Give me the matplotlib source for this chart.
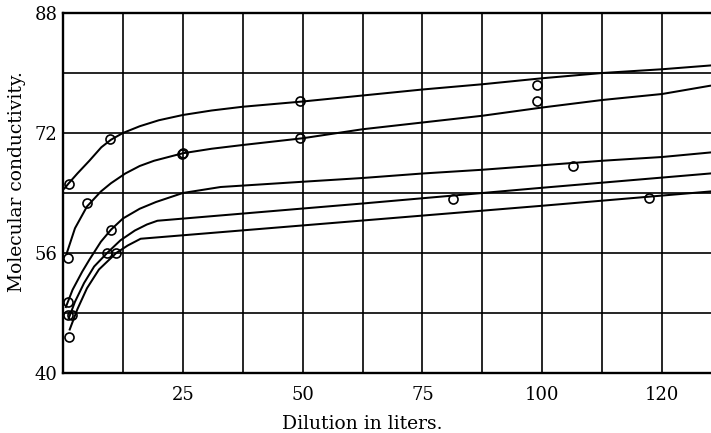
import matplotlib
matplotlib.use("Agg")
import matplotlib.pyplot as plt

# Hand-drawn curves (dilution in liters, molecular conductivity)
curve1_x = [0.3, 1.2, 3, 5.5, 8, 10, 12.5, 16, 20, 25, 31, 37.5, 50, 62.5, 75, 87.5, 100, 112.5, 125, 135]
curve1_y = [64.6, 65.3, 66.6, 68.3, 70.1, 71.1, 72.0, 72.9, 73.7, 74.4, 75.0, 75.5, 76.2, 77.0, 77.8, 78.5, 79.3, 80.0, 80.5, 81.0]

curve2_x = [0.8, 2.5, 5.0, 7.9, 10, 13, 16, 19, 22, 25, 31, 37.5, 50, 62.5, 75, 87.5, 100, 112.5, 125, 135]
curve2_y = [56.0, 59.3, 62.2, 64.2, 65.3, 66.6, 67.6, 68.3, 68.8, 69.3, 69.9, 70.4, 71.3, 72.5, 73.4, 74.3, 75.4, 76.4, 77.2, 78.3]

curve3_x = [0.6, 2.0, 4, 5.5, 7.9, 10, 12.5, 16, 19.4, 25, 32.9, 50, 62.5, 75, 87.5, 100, 112.5, 125, 135]
curve3_y = [48.8, 51.1, 53.5, 55.1, 57.5, 59.1, 60.6, 61.9, 62.8, 64.0, 64.8, 65.5, 66.0, 66.6, 67.1, 67.7, 68.3, 68.8, 69.4]

curve4_x = [1.2, 2.5, 4.4, 6.5, 9.2, 12, 15, 17.5, 19.7, 62.5, 100, 135]
curve4_y = [47.3, 49.5, 52.0, 54.2, 56.0, 57.7, 59.0, 59.8, 60.3, 62.6, 64.7, 66.6]

curve5_x = [1.4, 3, 5, 7.5, 11.1, 13.5, 16.2, 60, 100, 135]
curve5_y = [45.8, 48.5, 51.3, 53.8, 56.0, 57.0, 57.9, 60.2, 62.3, 64.2]

# Observed values (open circles)
points_x = [1.2, 9.8, 49.4, 99.0,
            1.1, 5.1, 24.8, 25.1, 49.4, 99.0,
            1.0, 10.0, 106.5,
            1.0, 9.2, 81.4,
            1.8, 1.25, 11.1, 122.3]
points_y = [65.2, 71.2, 76.2, 78.4,
            55.3, 62.6, 69.2, 69.3, 71.3, 76.2,
            49.5, 59.1, 67.6,
            47.7, 56.0, 63.2,
            47.7, 44.8, 56.0, 63.3]

# Axis ticks and grid
xtick_pos = [25, 50, 75, 100, 125]
xtick_labels = ["25", "50", "75", "100", "120"]
ytick_pos = [40, 56, 72, 88]
ytick_labels = ["40", "56", "72", "88"]
xgrid = [12.5, 25, 37.5, 50, 62.5, 75, 87.5, 100, 112.5, 125]
ygrid = [48, 56, 64, 72, 80]

plt.rcParams["font.family"] = ["DejaVu Serif"]

fig = plt.figure(figsize=(7.11, 4.33), dpi=100)
ax = fig.add_axes([63 / 711, 60 / 433, 648 / 711, 360 / 433])

# ruled paper
for gx in xgrid:
    ax.axvline(gx, color="black", lw=1.2, zorder=1)
for gy in ygrid:
    ax.axhline(gy, color="black", lw=1.2, zorder=1)

for cx, cy in [(curve1_x, curve1_y), (curve2_x, curve2_y), (curve3_x, curve3_y),
               (curve4_x, curve4_y), (curve5_x, curve5_y)]:
    ax.plot(cx, cy, color="black", lw=1.45, zorder=2, solid_joinstyle="round")

ax.plot(points_x, points_y, linestyle="none", marker="o", markersize=6.5,
        markerfacecolor="none", markeredgecolor="black", markeredgewidth=1.2, zorder=3)

ax.set_xlim(0, 135.2)
ax.set_ylim(40, 88)
ax.set_xticks(xtick_pos)
ax.set_xticklabels(xtick_labels)
ax.set_yticks(ytick_pos)
ax.set_yticklabels(ytick_labels)
ax.tick_params(axis="both", length=0, labelsize=13)
ax.tick_params(axis="x", pad=9)
ax.tick_params(axis="y", pad=4)

for side in ["left", "bottom", "top"]:
    ax.spines[side].set_linewidth(1.7)
ax.spines["right"].set_visible(False)

fig.text(362 / 711, 1 - 424 / 433, "Dilution in liters.", ha="center", va="center", fontsize=13.5)
fig.text(17 / 711, 1 - 182 / 433, "Molecular conductivity.", ha="center", va="center",
         rotation=90, fontsize=13.5)

fig.savefig("out.png", dpi=100)
